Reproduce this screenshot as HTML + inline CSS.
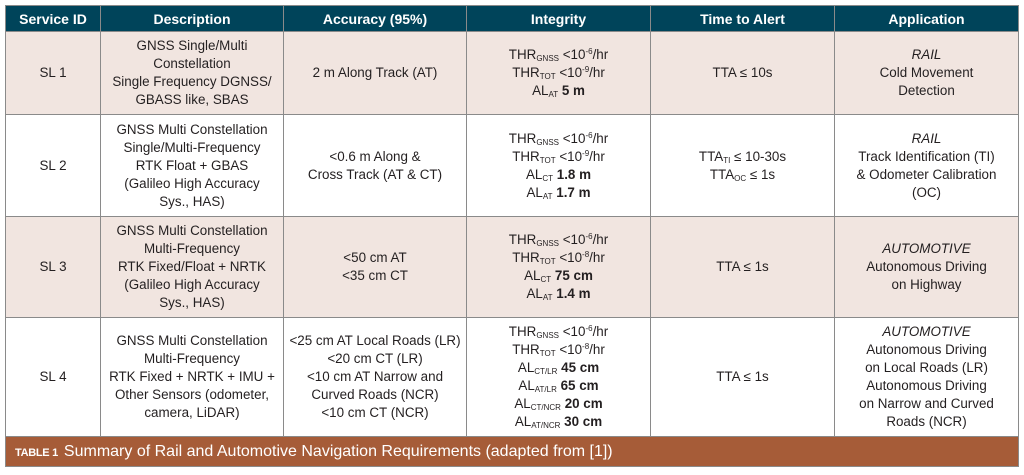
<!DOCTYPE html>
<html><head><meta charset="utf-8"><style>
body{margin:0;width:1024px;height:475px;background:#fff;font-family:"Liberation Sans",sans-serif;position:relative;overflow:hidden}
.c{position:absolute;display:flex;align-items:center;justify-content:center;text-align:center;font-size:13.4px;line-height:18px;color:#231f20;box-sizing:border-box;border-right:1px solid #8a8a8a;border-bottom:1px solid #8a8a8a}
.h{background:#00445a;color:#fff;font-weight:bold;font-size:14px}
.s{background:#f1e5e0}
sub{font-size:8px;vertical-align:-2px;line-height:0}
sup{font-size:8px;vertical-align:5px;line-height:0}
#frame{position:absolute;left:5px;top:5px;width:1014px;height:462px;border:1px solid #8a8a8a;box-sizing:border-box}
#cap{position:absolute;left:6px;top:437px;width:1012px;height:29px;background:#a65c38;color:#fff;font-size:16px;line-height:29px;padding-left:9px;box-sizing:border-box}
#cap b{font-size:11px;margin-right:6px;letter-spacing:-0.3px}
</style></head><body>
<div id="frame"></div>
<div class="c h" style="left:6px;top:6px;width:95px;height:26px">Service ID</div>
<div class="c h" style="left:101px;top:6px;width:183px;height:26px">Description</div>
<div class="c h" style="left:284px;top:6px;width:183px;height:26px">Accuracy (95%)</div>
<div class="c h" style="left:467px;top:6px;width:184px;height:26px">Integrity</div>
<div class="c h" style="left:651px;top:6px;width:184px;height:26px">Time to Alert</div>
<div class="c h" style="left:835px;top:6px;width:183px;height:26px;border-right:none">Application</div>
<div class="c s" style="left:6px;top:32px;width:95px;height:83px">SL 1</div>
<div class="c s" style="left:101px;top:32px;width:183px;height:83px">GNSS Single/Multi<br>Constellation<br>Single Frequency DGNSS/<br>GBASS like, SBAS</div>
<div class="c s" style="left:284px;top:32px;width:183px;height:83px">2 m Along Track (AT)</div>
<div class="c s" style="left:467px;top:32px;width:184px;height:83px"><div>THR<sub>GNSS</sub> &lt;10<sup>-6</sup>/hr<br>THR<sub>TOT</sub> &lt;10<sup>-9</sup>/hr<br>AL<sub>AT</sub> <b>5 m</b></div></div>
<div class="c s" style="left:651px;top:32px;width:184px;height:83px">TTA ≤ 10s</div>
<div class="c s" style="left:835px;top:32px;width:183px;height:83px;border-right:none"><div><i>RAIL</i><br>Cold Movement<br>Detection</div></div>
<div class="c" style="left:6px;top:115px;width:95px;height:102px">SL 2</div>
<div class="c" style="left:101px;top:115px;width:183px;height:102px">GNSS Multi Constellation<br>Single/Multi-Frequency<br>RTK Float + GBAS<br>(Galileo High Accuracy<br>Sys., HAS)</div>
<div class="c" style="left:284px;top:115px;width:183px;height:102px">&lt;0.6 m Along &amp;<br>Cross Track (AT &amp; CT)</div>
<div class="c" style="left:467px;top:115px;width:184px;height:102px"><div>THR<sub>GNSS</sub> &lt;10<sup>-6</sup>/hr<br>THR<sub>TOT</sub> &lt;10<sup>-9</sup>/hr<br>AL<sub>CT</sub> <b>1.8 m</b><br>AL<sub>AT</sub> <b>1.7 m</b></div></div>
<div class="c" style="left:651px;top:115px;width:184px;height:102px"><div>TTA<sub>TI</sub> ≤ 10-30s<br>TTA<sub>OC</sub> ≤ 1s</div></div>
<div class="c" style="left:835px;top:115px;width:183px;height:102px;border-right:none"><div><i>RAIL</i><br>Track Identification (TI)<br>&amp; Odometer Calibration<br>(OC)</div></div>
<div class="c s" style="left:6px;top:217px;width:95px;height:101px">SL 3</div>
<div class="c s" style="left:101px;top:217px;width:183px;height:101px">GNSS Multi Constellation<br>Multi-Frequency<br>RTK Fixed/Float + NRTK<br>(Galileo High Accuracy<br>Sys., HAS)</div>
<div class="c s" style="left:284px;top:217px;width:183px;height:101px">&lt;50 cm AT<br>&lt;35 cm CT</div>
<div class="c s" style="left:467px;top:217px;width:184px;height:101px"><div>THR<sub>GNSS</sub> &lt;10<sup>-6</sup>/hr<br>THR<sub>TOT</sub> &lt;10<sup>-8</sup>/hr<br>AL<sub>CT</sub> <b>75 cm</b><br>AL<sub>AT</sub> <b>1.4 m</b></div></div>
<div class="c s" style="left:651px;top:217px;width:184px;height:101px">TTA ≤ 1s</div>
<div class="c s" style="left:835px;top:217px;width:183px;height:101px;border-right:none"><div><i>AUTOMOTIVE</i><br>Autonomous Driving<br>on Highway</div></div>
<div class="c" style="left:6px;top:318px;width:95px;height:119px">SL 4</div>
<div class="c" style="left:101px;top:318px;width:183px;height:119px">GNSS Multi Constellation<br>Multi-Frequency<br>RTK Fixed + NRTK + IMU +<br>Other Sensors (odometer,<br>camera, LiDAR)</div>
<div class="c" style="left:284px;top:318px;width:183px;height:119px">&lt;25 cm AT Local Roads (LR)<br>&lt;20 cm CT (LR)<br>&lt;10 cm AT Narrow and<br>Curved Roads (NCR)<br>&lt;10 cm CT (NCR)</div>
<div class="c" style="left:467px;top:318px;width:184px;height:119px"><div>THR<sub>GNSS</sub> &lt;10<sup>-6</sup>/hr<br>THR<sub>TOT</sub> &lt;10<sup>-8</sup>/hr<br>AL<sub>CT/LR</sub> <b>45 cm</b><br>AL<sub>AT/LR</sub> <b>65 cm</b><br>AL<sub>CT/NCR</sub> <b>20 cm</b><br>AL<sub>AT/NCR</sub> <b>30 cm</b></div></div>
<div class="c" style="left:651px;top:318px;width:184px;height:119px">TTA ≤ 1s</div>
<div class="c" style="left:835px;top:318px;width:183px;height:119px;border-right:none"><div><i>AUTOMOTIVE</i><br>Autonomous Driving<br>on Local Roads (LR)<br>Autonomous Driving<br>on Narrow and Curved<br>Roads (NCR)</div></div>
<div id="cap"><b>TABLE 1</b>Summary of Rail and Automotive Navigation Requirements (adapted from [1])</div>
</body></html>
